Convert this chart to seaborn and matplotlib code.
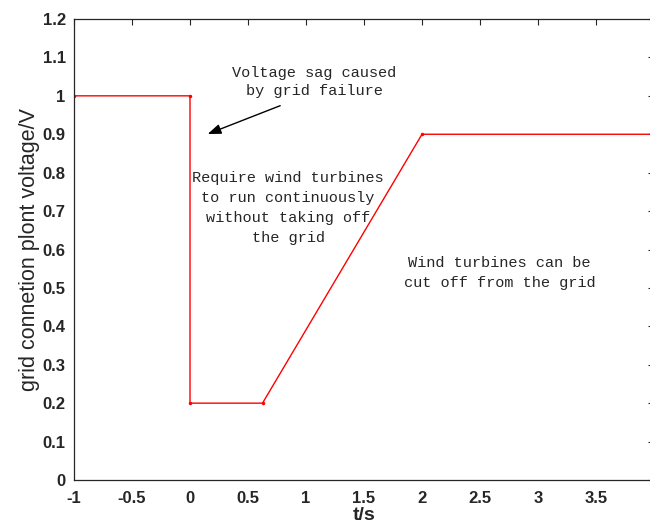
import matplotlib
matplotlib.use("Agg")
import matplotlib.pyplot as plt
import seaborn as sns
import pandas as pd

t_values = [-1, 0, 0, 0.625, 2, 4]
voltage_values = [1.0, 1.0, 0.2, 0.2, 0.9, 0.9]
x_ticks = [-1, -0.5, 0, 0.5, 1, 1.5, 2, 2.5, 3, 3.5, 4]
x_tick_labels = ["-1", "-0.5", "0", "0.5", "1", "1.5", "2", "2.5", "3", "3.5", "4"]
y_ticks = [0, 0.1, 0.2, 0.3, 0.4, 0.5, 0.6, 0.7, 0.8, 0.9, 1.0, 1.1, 1.2]
y_tick_labels = ["0", "0.1", "0.2", "0.3", "0.4", "0.5", "0.6", "0.7", "0.8", "0.9", "1", "1.1", "1.2"]

sns.set_style("white")
plt.rcParams['font.family'] = ['Liberation Sans', 'DejaVu Sans']

df = pd.DataFrame({"t": t_values, "v": voltage_values})

fig = plt.figure(figsize=(6.5, 5.32), dpi=100)
ax = fig.add_axes([74/650, 52/532, 580/650, 461/532])
sns.lineplot(data=df, x="t", y="v", sort=False, ax=ax, color="#ff0000",
             lw=1.0, marker="o", markersize=2.5, markeredgewidth=0, estimator=None)

ax.set_xlim(-1, 4)
ax.set_ylim(0, 1.2)
ax.set_xticks(x_ticks)
ax.set_xticklabels(x_tick_labels, fontsize=12, fontweight="bold")
ax.set_yticks(y_ticks)
ax.set_yticklabels(y_tick_labels, fontsize=12, fontweight="bold")
ax.tick_params(direction="in", top=True, right=True, length=4, width=0.8, color="#262626")
ax.tick_params(axis="y", pad=6)
ax.tick_params(axis="x", pad=8)
for s in ax.spines.values():
    s.set_color("#262626")
    s.set_linewidth(0.9)
ax.set_xlabel("t/s", fontsize=14, fontweight="bold", labelpad=1)
ax.set_ylabel("grid connetion plont voltage/V", fontsize=15.5, labelpad=2)

mono = ["Liberation Mono", "DejaVu Sans Mono"]
ax.text(1.07, 1.036, "Voltage sag caused\nby grid failure", ha="center", va="center",
        fontsize=11, family=mono, linespacing=1.45)
ax.text(0.845, 0.708, "Require wind turbines\nto run continuously\nwithout taking off\nthe grid",
        ha="center", va="center", fontsize=11, family=mono, linespacing=1.55)
ax.text(2.67, 0.539, "Wind turbines can be\ncut off from the grid", ha="center", va="center",
        fontsize=11, family=mono, linespacing=1.5)
ax.annotate("", xy=(0.13, 0.898), xytext=(0.80, 0.977),
            arrowprops=dict(arrowstyle="-|>,head_length=0.8,head_width=0.3", color="black", lw=1))

fig.savefig("out.png", dpi=100)
